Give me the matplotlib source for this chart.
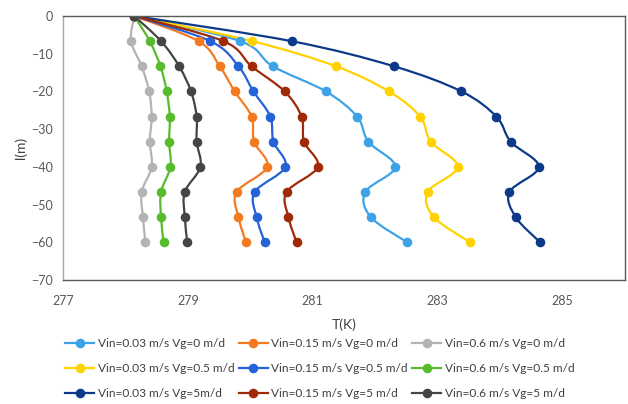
import numpy as np
import matplotlib
matplotlib.use("Agg")
import matplotlib.pyplot as plt
from matplotlib.path import Path
from matplotlib.patches import PathPatch
from matplotlib.lines import Line2D

plt.rcParams['font.family'] = ['Lato', 'DejaVu Sans']

# depth of the measurement points (m)
depth = [0, -6.67, -13.33, -20, -26.67, -33.33, -40, -46.67, -53.33, -60]

labels = [
    "Vin=0.03 m/s Vg=0 m/d", "Vin=0.15 m/s Vg=0 m/d", "Vin=0.6 m/s Vg=0 m/d",
    "Vin=0.03 m/s Vg=0.5 m/d", "Vin=0.15 m/s Vg=0.5 m/d", "Vin=0.6 m/s Vg=0.5 m/d",
    "Vin=0.03 m/s Vg=5m/d", "Vin=0.15 m/s Vg=5 m/d", "Vin=0.6 m/s Vg=5 m/d",
]

# temperature profiles (K)
t_003_0 = [278.14, 279.84, 280.36, 281.21, 281.71, 281.89, 282.32, 281.84, 281.93, 282.51]
t_015_0 = [278.14, 279.17, 279.51, 279.75, 280.02, 280.06, 280.27, 279.78, 279.81, 279.93]
t_06_0 = [278.14, 278.09, 278.26, 278.38, 278.42, 278.39, 278.42, 278.26, 278.28, 278.32]
t_003_05 = [278.14, 280.03, 281.37, 282.22, 282.72, 282.89, 283.32, 282.84, 282.94, 283.52]
t_015_05 = [278.14, 279.36, 279.81, 280.05, 280.32, 280.37, 280.56, 280.07, 280.10, 280.23]
t_06_05 = [278.14, 278.39, 278.56, 278.66, 278.71, 278.70, 278.72, 278.57, 278.57, 278.61]
t_003_5 = [278.14, 280.66, 282.30, 283.38, 283.94, 284.17, 284.62, 284.15, 284.25, 284.64]
t_015_5 = [278.14, 279.57, 280.02, 280.55, 280.82, 280.86, 281.08, 280.58, 280.61, 280.74]
t_06_5 = [278.14, 278.57, 278.86, 279.05, 279.14, 279.14, 279.20, 278.95, 278.95, 278.99]

series = [t_003_0, t_015_0, t_06_0, t_003_05, t_015_05, t_06_05, t_003_5, t_015_5, t_06_5]
colors = ['#3DA3E6', '#F47A22', '#B3B3B3', '#FFD200', '#2462D8', '#58BB2C',
          '#0D3A88', '#A02A08', '#454545']


def smooth_path(x, y):
    # cubic bezier through the points, like a spreadsheet "smoothed line"
    p = np.column_stack([x, y]).astype(float)
    n = len(p)
    verts = [p[0]]
    codes = [Path.MOVETO]
    for i in range(n - 1):
        p0 = p[i - 1] if i > 0 else p[i]
        p1, p2 = p[i], p[i + 1]
        p3 = p[i + 2] if i + 2 < n else p[i + 1]
        c1 = p1 + (p2 - p0) / 6.0
        c2 = p2 - (p3 - p1) / 6.0
        verts += [c1, c2, p2]
        codes += [Path.CURVE4] * 3
    return Path(verts, codes)


fig = plt.figure(figsize=(6.28, 4.04), dpi=100)
ax = fig.add_axes([63 / 628, 1 - 280 / 404, 562 / 628, 264 / 404])

handles = []
for t, c, lab in zip(series, colors, labels):
    ax.add_patch(PathPatch(smooth_path(t, depth), fill=False, edgecolor=c, lw=1.6,
                           capstyle='round', joinstyle='round'))
    ax.plot(t, depth, ls='none', marker='o', ms=5.9, color=c)
    handles.append(Line2D([], [], color=c, lw=1.6, marker='o', ms=5.9, label=lab))

ax.set_xlim(277, 286)
ax.set_ylim(-70, 0)
ax.set_xticks([277, 279, 281, 283, 285])
ax.set_yticks(range(-70, 1, 10))
ax.tick_params(length=0, labelsize=9, colors='#595959')
ax.tick_params(axis='x', pad=11)
ax.tick_params(axis='y', pad=7)
for side in ['top', 'right', 'bottom']:
    ax.spines[side].set_color('#5a5a5a')
ax.spines['left'].set_color('#a6a6a6')
for s in ax.spines.values():
    s.set_linewidth(1.0)

ax.set_xlabel("T(K)", fontsize=10, color='#404040', labelpad=8)
ax.set_ylabel("l(m)", fontsize=10, color='#404040', labelpad=3)

order = [0, 3, 6, 1, 4, 7, 2, 5, 8]
fig.legend([handles[i] for i in order], [labels[i] for i in order],
           ncol=3, loc='upper left', bbox_to_anchor=(59 / 628, 1 - 332 / 404),
           frameon=False, fontsize=8.6, handlelength=2.45, handletextpad=0.3,
           columnspacing=0.35, labelspacing=1.18, borderpad=0, labelcolor='#404040')

fig.savefig("out.png", dpi=100)
